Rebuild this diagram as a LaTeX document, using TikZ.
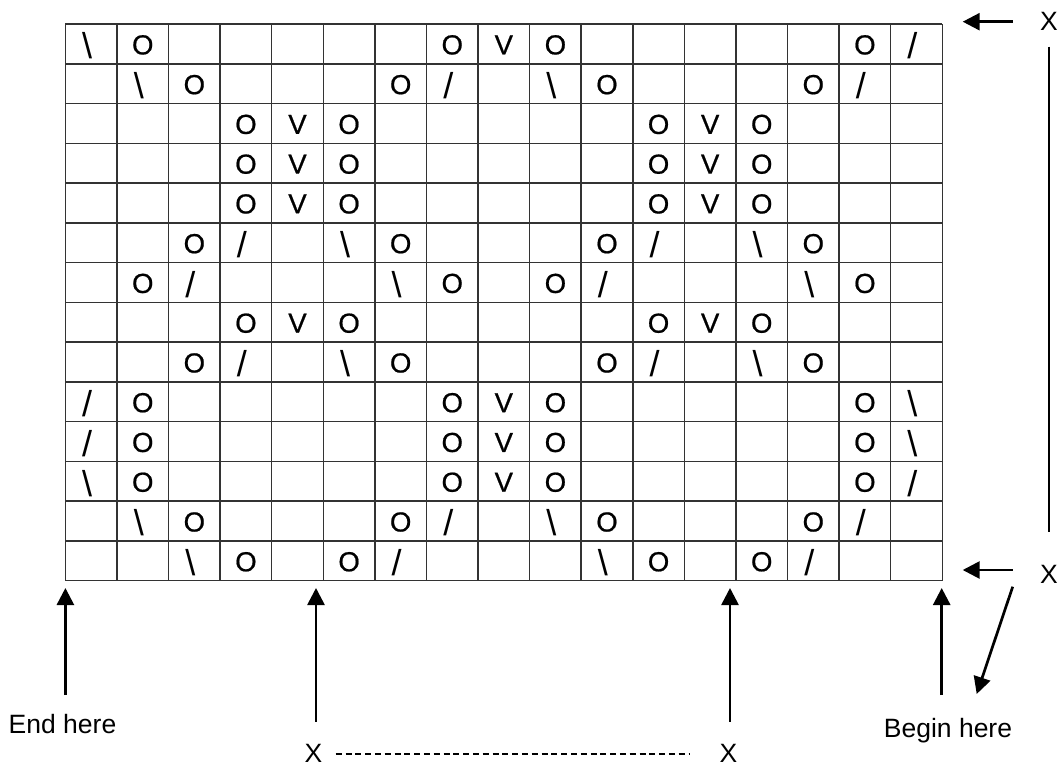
\documentclass[tikz,border=0pt]{standalone}
\usepackage{fontspec}
\setmainfont{Liberation Sans}
\newfontfamily\symfont{Liberation Sans}[FakeBold=0.7]
\usetikzlibrary{arrows.meta}
\begin{document}
\begin{tikzpicture}[x=1pt,y=-1pt,
  gridline/.style={line width=1.5pt, draw=black!80},
  sym/.style={inner sep=0pt, font=\symfont\fontsize{27.5}{30}\selectfont, yshift=-1pt},
  slashsym/.style={inner sep=0pt, font=\fontsize{36}{40}\selectfont, xshift=-4pt, yshift=-2pt},
  lbl/.style={inner sep=0pt, font=\fontsize{26.5}{30}\selectfont, anchor=base},
  arr/.style={line width=2.7pt, -{Triangle[length=17pt,width=17pt]}},
  plainline/.style={line width=2pt},
  dashline/.style={line width=2pt, dash pattern=on 6pt off 3.8pt}]
\useasboundingbox (0,0) rectangle (1060,766);
\def\gx{65.4}\def\gy{24}\def\cw{51.58}\def\rh{39.76}
% grid
\foreach \i in {0,...,17}
  \draw[gridline] ({\gx+\i*\cw},\gy) -- ({\gx+\i*\cw},{\gy+14*\rh});
\foreach \j in {0,...,14}
  \draw[gridline] (\gx,{\gy+\j*\rh}) -- ({\gx+17*\cw},{\gy+\j*\rh});
% symbols
\foreach \r/\c in {1/2,1/8,1/10,1/16,2/3,2/7,2/11,2/15,3/4,3/6,3/12,3/14,4/4,4/6,4/12,4/14,
  5/4,5/6,5/12,5/14,6/3,6/7,6/11,6/15,7/2,7/8,7/10,7/16,8/4,8/6,8/12,8/14,
  9/3,9/7,9/11,9/15,10/2,10/8,10/10,10/16,11/2,11/8,11/10,11/16,12/2,12/8,12/10,12/16,
  13/3,13/7,13/11,13/15,14/4,14/6,14/12,14/14}
  \node[sym] (o-\r-\c) at ({\gx+(\c-0.5)*\cw},{\gy+(\r-0.5)*\rh}) {O};
\foreach \r/\c in {1/9,3/5,3/13,4/5,4/13,5/5,5/13,8/5,8/13,10/9,11/9,12/9}
  \node[sym] (v-\r-\c) at ({\gx+(\c-0.5)*\cw},{\gy+(\r-0.5)*\rh}) {V};
\foreach \r/\c in {1/17,2/8,2/16,6/4,6/12,7/3,7/11,9/4,9/12,10/1,11/1,12/17,13/8,13/16,14/7,14/15}
  \node[slashsym] (s-\r-\c) at ({\gx+(\c-0.5)*\cw},{\gy+(\r-0.5)*\rh}) {/};
\foreach \r/\c in {1/1,2/2,2/10,6/6,6/14,7/7,7/15,9/6,9/14,10/17,11/17,12/1,13/2,13/10,14/3,14/11}
  \node[slashsym] (b-\r-\c) at ({\gx+(\c-0.5)*\cw},{\gy+(\r-0.5)*\rh}) {\textbackslash};
% labels
\node[lbl] (endhere) at (62.5,733.3) {End here};
\node[lbl] (beginhere) at (948,737.3) {Begin here};
\node[lbl] (xtop) at (1049,30) {X};
\node[lbl] (xbot) at (1049,583.3) {X};
\node[lbl] (xl) at (313.5,762) {X};
\node[lbl] (xr) at (728.5,762) {X};
% coordinates
\coordinate (a1s) at (65.4,695);   \coordinate (a1e) at (65.4,588);
\coordinate (a2s) at (316,721.7);  \coordinate (a2e) at (316,588);
\coordinate (a3s) at (730,721.7);  \coordinate (a3e) at (730,588);
\coordinate (a4s) at (941.7,695);  \coordinate (a4e) at (941.7,588);
\coordinate (tts) at (1012.7,21.7); \coordinate (tte) at (962.7,21.7);
\coordinate (bbs) at (1012.7,570);  \coordinate (bbe) at (962.7,570);
\coordinate (dgs) at (1012.7,586.7); \coordinate (dge) at (976.7,694);
\coordinate (vls) at (1049,46.7);   \coordinate (vle) at (1049,531.7);
\coordinate (dl) at (335.7,753.5);  \coordinate (dr) at (688.7,753.5);
% connectors
\draw[arr] (a1s) -- (a1e);
\draw[arr] (a2s) -- (a2e);
\draw[arr] (a3s) -- (a3e);
\draw[arr] (a4s) -- (a4e);
\draw[arr] (tts) -- (tte);
\draw[arr] (bbs) -- (bbe);
\draw[arr] (dgs) -- (dge);
\draw[plainline] (vls) -- (vle);
\draw[dashline] (dl) -- (dr);
\end{tikzpicture}
\end{document}
